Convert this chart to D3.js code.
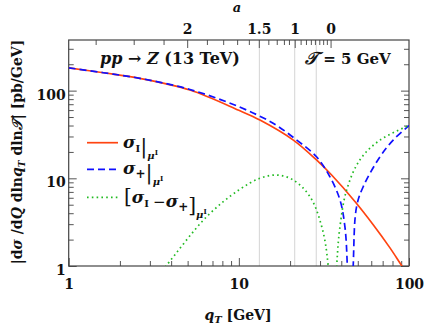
<!DOCTYPE html>
<html><head><meta charset="utf-8">
<script src="https://cdn.jsdelivr.net/npm/d3@7"></script>
<style>body{margin:0;background:#fff} text{font-family:"DejaVu Serif",serif;}</style>
</head><body><svg id="c" width="424" height="328"></svg>
<script>
// ---- data ----
const qSigmaI   = [1, 1.6, 2.62, 5.16, 10, 13.3, 20.9, 28.6, 35.1, 48.1, 61.6, 77.3, 88.5, 100];
const valSigmaI = [182, 160, 138, 101.6, 59.6, 46.2, 27.3, 16.2, 10.9, 5.45, 2.96, 1.61, 1.08, 0.75];
const qSigmaP   = [1, 1.6, 2.62, 5.16, 10, 15.9, 21.9, 28.6, 34.3, 39.3, 42.0, 43.4, 45.2, 47.0, 49.2, 53.8, 67.5, 80.7, 100];
const valSigmaP = [182, 160, 138, 103, 65.5, 42.4, 27.3, 17.6, 10.4, 5.66, 2.81, 1.0, 0.03, 1.0, 4.75, 8.02, 17.6, 27.3, 40];
const qDiff     = [3.0, 3.73, 6.47, 10, 13.3, 16.7, 20.9, 26.2, 30.7, 33.5, 35.5, 37.6, 39.3, 43.0, 51.4, 67.5, 100];
const valDiff   = [0.6, 1.0, 3.65, 7.36, 10.0, 10.9, 9.57, 6.17, 2.81, 1.0, 0.03, 1.0, 2.81, 7.36, 16.2, 27.3, 40];
const xMajorTicks = [1, 10, 100];
const yMajorTicks = [1, 10, 100];
const aLabels   = ["2", "1.5", "1", "0"];
const aLabelQ   = [4.97, 13.1, 21.3, 34.6];
const aMinorQ   = [1.44, 2.41, 3.61, 6.49, 8.09, 9.77, 11.45, 14.9, 16.7, 18.4, 19.7, 23.07, 24.8, 26.5, 28.0, 29.7, 31.3, 32.9];
const grayLinesQ = [13.2, 21.3, 28.5];
const yMax = 378;

// ---- layout ----
const L = 68.7, R = 409, T = 40, B = 266;
const svg = d3.select("#c");
const x = d3.scaleLog().domain([1, 100]).range([L, R]);
const y = d3.scaleLog().domain([1, yMax]).range([B, T]);

const minorX = [];
for (let d = 1; d < 100; d *= 10) for (let k = 2; k <= 9; k++) minorX.push(d * k);
const minorY = [];
for (let d = 1; d < 1000; d *= 10) for (let k = 2; k <= 9; k++) if (d * k <= yMax) minorY.push(d * k);

svg.append("defs").append("clipPath").attr("id", "clip")
  .append("rect").attr("x", L).attr("y", T).attr("width", R - L).attr("height", B - T);

// gray vertical lines
svg.append("g").selectAll("line").data(grayLinesQ).join("line")
  .attr("x1", d => x(d)).attr("x2", d => x(d)).attr("y1", T).attr("y2", B)
  .attr("stroke", "#d4d4d4").attr("stroke-width", 1);

const tickColor = "#555";
function styleAxis(g) {
  g.select(".domain").remove();
  g.selectAll(".tick line").attr("stroke", tickColor).attr("stroke-width", 1);
  g.selectAll("text").attr("font-family", "DejaVu Serif").attr("font-weight", "bold").attr("font-size", 14).attr("fill", "#111");
}
// bottom
svg.append("g").attr("transform", `translate(0,${B})`)
  .call(d3.axisBottom(x).tickValues(xMajorTicks).tickSize(-8).tickPadding(13).tickFormat(d3.format("d"))).call(styleAxis);
svg.append("g").attr("transform", `translate(0,${B})`)
  .call(d3.axisBottom(x).tickValues(minorX).tickSize(-5).tickFormat("")).call(styleAxis);
// left
svg.append("g").attr("transform", `translate(${L},0)`)
  .call(d3.axisLeft(y).tickValues(yMajorTicks).tickSize(-8).tickPadding(3).tickFormat(d3.format("d"))).call(styleAxis)
  .selectAll("text").attr("dy", "0.6em");
svg.append("g").attr("transform", `translate(${L},0)`)
  .call(d3.axisLeft(y).tickValues(minorY).tickSize(-5).tickFormat("")).call(styleAxis);
// right
svg.append("g").attr("transform", `translate(${R},0)`)
  .call(d3.axisRight(y).tickValues(yMajorTicks).tickSize(-8).tickFormat("")).call(styleAxis);
svg.append("g").attr("transform", `translate(${R},0)`)
  .call(d3.axisRight(y).tickValues(minorY).tickSize(-5).tickFormat("")).call(styleAxis);
// top (a axis)
const ta = svg.append("g").attr("transform", `translate(0,${T})`)
  .call(d3.axisTop(x).tickValues(aLabelQ).tickSize(-8).tickPadding(6).tickFormat((d, i) => aLabels[i])).call(styleAxis);
ta.selectAll("text").attr("dy", "0");
svg.append("g").attr("transform", `translate(0,${T})`)
  .call(d3.axisTop(x).tickValues(aMinorQ).tickSize(-5).tickFormat("")).call(styleAxis);

// frame
svg.append("rect").attr("x", L).attr("y", T).attr("width", R - L).attr("height", B - T)
  .attr("fill", "none").attr("stroke", "#444").attr("stroke-width", 1.2);

// curves
const line = d3.line().x(d => x(d[0])).y(d => y(d[1])).curve(d3.curveCatmullRom.alpha(0.5));
const cg = svg.append("g").attr("clip-path", "url(#clip)");
const series = [
  {q: qSigmaI, v: valSigmaI, color: "#ff4411", dash: null},
  {q: qSigmaP, v: valSigmaP, color: "#1010ff", dash: "7,4"},
  {q: qDiff,   v: valDiff,   color: "#22bb22", dash: "1.6,3.2"}
];
series.forEach(s => {
  cg.append("path").datum(s.q.map((q, i) => [q, s.v[i]]))
    .attr("d", line).attr("fill", "none").attr("stroke", s.color).attr("stroke-width", 1.7)
    .attr("stroke-dasharray", s.dash);
});

// legend
const legY = [142.7, 169.3, 197.3];
series.forEach((s, i) => {
  svg.append("line").attr("x1", 87).attr("x2", 118).attr("y1", legY[i]).attr("y2", legY[i])
    .attr("stroke", s.color).attr("stroke-width", 1.7).attr("stroke-dasharray", s.dash);
});
function sigma(t, sub, subSize) {
  t.append("tspan").attr("font-style", "italic").attr("font-weight", "bold").attr("font-size", 17).text("σ");
  t.append("tspan").attr("font-weight", "bold").attr("font-size", subSize).attr("dy", 4).text(sub);
  t.append("tspan").attr("dy", -4).text("");
}
function muI(t, dyDown) {
  t.append("tspan").attr("font-style", "italic").attr("font-weight", "bold").attr("font-size", 10).attr("dy", dyDown).text("μ");
  t.append("tspan").attr("font-weight", "bold").attr("font-size", 7).attr("dy", -4).text("I");
}
let t1 = svg.append("text").attr("x", 123).attr("y", legY[0] + 5).attr("fill", "#111");
sigma(t1, "I", 10);
t1.append("tspan").attr("font-size", 21).attr("dy", 1).text("|");
muI(t1, 6);
let t2 = svg.append("text").attr("x", 123).attr("y", legY[1] + 5).attr("fill", "#111");
sigma(t2, "+", 12);
t2.append("tspan").attr("font-size", 21).attr("dy", 1).text("|");
muI(t2, 6);
let t3 = svg.append("text").attr("x", 124).attr("y", legY[2] + 5).attr("fill", "#111");
t3.append("tspan").attr("font-size", 20).attr("dy", 1).text("[");
t3.append("tspan").attr("dy", -1).text("");
sigma(t3, "I", 10);
t3.append("tspan").attr("font-size", 15).attr("dx", 4).text("−");
t3.append("tspan").attr("dx", 4).text("");
sigma(t3, "+", 12);
t3.append("tspan").attr("font-size", 20).attr("dy", 1).text("]");
muI(t3, 6);

// annotations
const ann = svg.append("text").attr("x", 100).attr("y", 64).attr("font-size", 16).attr("font-weight", "bold").attr("fill", "#111");
ann.append("tspan").attr("font-style", "italic").text("pp");
ann.append("tspan").text(" → ");
ann.append("tspan").attr("font-style", "italic").text("Z");
ann.append("tspan").text("  (13 TeV)");
const ann2 = svg.append("text").attr("x", 305).attr("y", 64).attr("font-size", 15).attr("font-weight", "bold").attr("fill", "#111");
ann2.append("tspan").attr("font-style", "italic").attr("font-size", 17).text("𝒯");
ann2.append("tspan").text(" = 5 GeV");

// axis titles
const xt = svg.append("text").attr("x", 238).attr("y", 320).attr("text-anchor", "middle").attr("font-size", 14).attr("font-weight", "bold").attr("fill", "#111");
xt.append("tspan").attr("font-style", "italic").text("q");
xt.append("tspan").attr("font-style", "italic").attr("font-size", 10).attr("dy", 3).text("T");
xt.append("tspan").attr("dy", -3).text(" [GeV]");

svg.append("text").attr("x", 237).attr("y", 12).attr("text-anchor", "middle").attr("font-size", 13).attr("font-weight", "bold").attr("font-style", "italic").attr("fill", "#111").text("a");

const yt = svg.append("text").attr("transform", "translate(22,152) rotate(-90)").attr("text-anchor", "middle")
  .attr("font-size", 14).attr("font-weight", "bold").attr("fill", "#111");
yt.append("tspan").text("|d");
yt.append("tspan").attr("font-style", "italic").text("σ");
yt.append("tspan").text(" /d");
yt.append("tspan").attr("font-style", "italic").text("Q");
yt.append("tspan").text(" dln");
yt.append("tspan").attr("font-style", "italic").text("q");
yt.append("tspan").attr("font-style", "italic").attr("font-size", 9).attr("dy", 3).text("T");
yt.append("tspan").attr("dy", -3).text(" dln");
yt.append("tspan").attr("font-style", "italic").text("𝒯");
yt.append("tspan").text("| [pb/GeV]");
</script></body></html>
